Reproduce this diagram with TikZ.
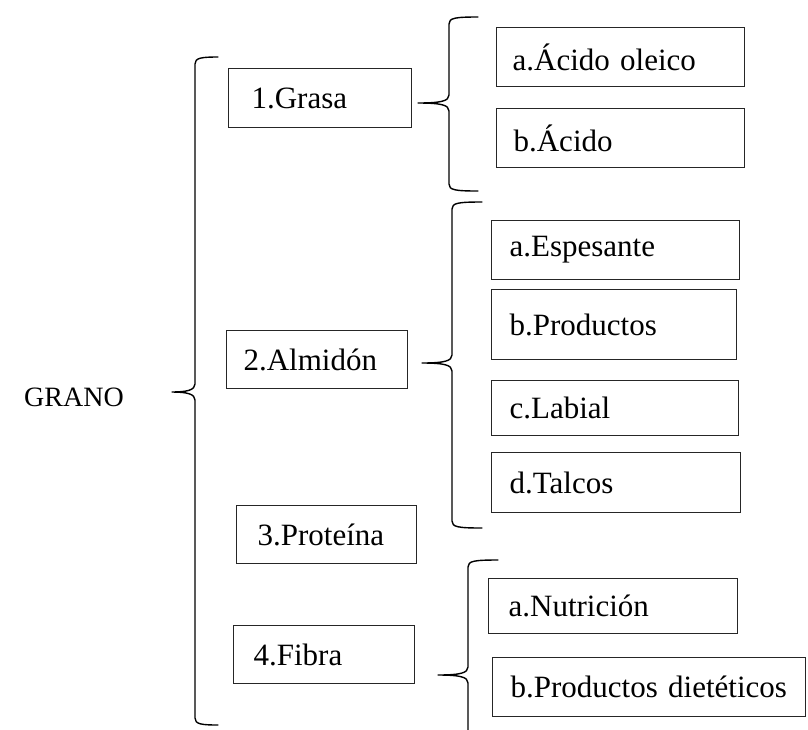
\documentclass[tikz,border=0pt]{standalone}
\usepackage{fontspec}
\setmainfont{Liberation Serif}
\newcommand\mybrace[7]{%
  \coordinate (#7) at (#4,#5);
  \draw[br] (#6,#2) .. controls ({#1+6},#2) and (#1,{#2+1}) .. (#1,{#2+7})
    -- (#1,{#5-8}) .. controls (#1,{#5-2}) and ({#1-8},#5) .. (#7)
    .. controls ({#1-8},#5) and (#1,{#5+2}) .. (#1,{#5+8})
    -- (#1,{#3-7}) .. controls (#1,{#3-1}) and ({#1+6},#3) .. (#6,#3);}
\newcommand\mybox[8]{% name, x1, y1, x2, y2, inset, textwidth, text
  \node[bx, inner xsep=#6pt, text width=#7pt, minimum height={(#5-#3)*1pt}] (#1) at (#2,#3) {#8};}
\begin{document}
\begin{tikzpicture}[x=1pt,y=-1pt,
  bx/.style={draw=black!85, line width=1.2pt, anchor=north west, inner ysep=0pt,
    align=left, font=\fontsize{31}{36}\selectfont},
  br/.style={line width=1.4pt, line join=round, line cap=round}]
\clip (0,0) rectangle (808,729);
\fill[white] (0,0) rectangle (808,729);
\useasboundingbox (0,0) rectangle (808,729);

\node[anchor=east, inner sep=0pt, font=\fontsize{28}{32}\selectfont] (grano) at (124,397) {GRANO};

\mybrace{195}{57}{725}{172}{392}{218}{tipbig}

\mybox{g1}{228}{68}{411}{127}{23}{137}{1.Grasa}
\mybox{g2}{226}{330}{407}{388}{17}{147}{2.Almidón}
\mybox{p3}{236}{505}{416}{563}{21}{138}{3.Proteína}
\mybox{f4}{233}{625}{414}{683}{20}{141}{4.Fibra}

\mybrace{449}{17}{191}{418}{103}{478}{tipgrasa}
\mybox{ga}{496}{27}{744}{86}{16}{216}{a.Ácido oleico}
\mybox{gb}{496}{108}{744}{167}{17}{214}{b.Ácido}

\mybrace{452}{202}{528}{422}{363}{482}{tipalm}
\mybox{aa}{491}{220}{739}{279}{18}{212}{a.Espesante}
\mybox{ab}{491}{289}{736}{359}{18}{209}{b.Productos}
\mybox{ac}{491}{380}{738}{435}{18}{211}{c.Labial}
\mybox{ad}{491}{452}{740}{512}{18}{213}{d.Talcos}

\mybrace{468}{560}{745}{438}{675}{498}{tipfibra}
\mybox{fa}{488}{578}{737}{633}{20}{209}{a.Nutrición}
\mybox{fb}{492}{657}{805}{716}{18}{277}{b.Productos dietéticos}
\end{tikzpicture}
\end{document}
